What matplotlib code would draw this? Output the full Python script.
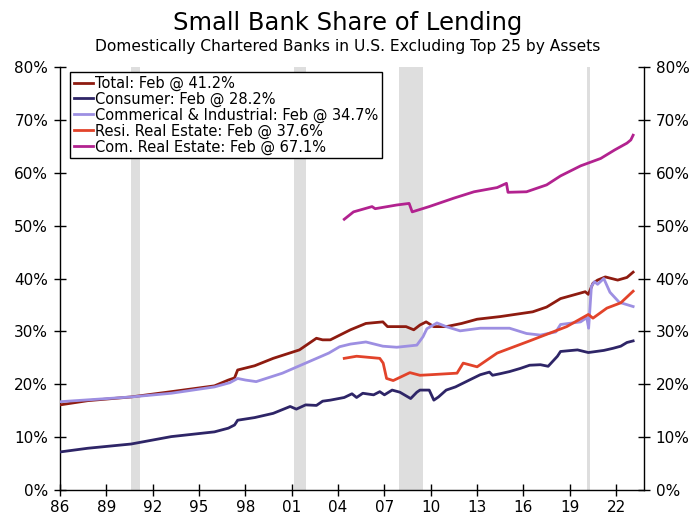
import matplotlib
matplotlib.use("Agg")
import matplotlib.pyplot as plt
from matplotlib.ticker import FuncFormatter, MultipleLocator

plt.rcParams['font.family'] = ['DejaVu Sans']

# ---- data (decimal year, percent share) ----
total_x = [1986.0, 1987.8, 1990.6, 1993.2, 1996.0, 1996.9, 1997.3, 1997.5, 1998.6, 1999.8,
           2001.5, 2002.0, 2002.6, 2003.0, 2003.5, 2004.8, 2005.8, 2006.9, 2007.2, 2008.4,
           2008.9, 2009.3, 2009.7, 2010.2, 2011.0, 2012.0, 2013.0, 2014.5, 2016.6, 2017.5,
           2018.4, 2020.0, 2020.2, 2020.5, 2020.8, 2021.3, 2022.1, 2022.7, 2023.1]
total_y = [16.1, 16.9, 17.6, 18.6, 19.7, 20.8, 21.2, 22.7, 23.5, 24.9,
           26.5, 27.5, 28.7, 28.4, 28.4, 30.3, 31.5, 31.8, 30.9, 30.9,
           30.3, 31.2, 31.8, 30.9, 30.9, 31.5, 32.3, 32.8, 33.7, 34.6,
           36.2, 37.5, 37.0, 39.1, 39.7, 40.3, 39.7, 40.2, 41.2]

cons_x = [1986.0, 1987.8, 1990.6, 1993.2, 1996.0, 1996.9, 1997.3, 1997.5, 1998.6, 1999.8,
          2000.9, 2001.3, 2001.9, 2002.6, 2003.0, 2003.5, 2004.4, 2004.9, 2005.2, 2005.6,
          2006.3, 2006.7, 2007.0, 2007.5, 2008.0, 2008.7, 2009.1, 2009.3, 2009.9, 2010.2,
          2010.5, 2011.0, 2011.6, 2012.5, 2013.2, 2013.8, 2014.0, 2014.5, 2015.1, 2015.8,
          2016.4, 2017.1, 2017.6, 2018.2, 2018.4, 2019.5, 2020.2, 2021.2, 2021.8, 2022.3,
          2022.7, 2023.1]
cons_y = [7.2, 7.9, 8.7, 10.1, 11.0, 11.7, 12.3, 13.2, 13.7, 14.5,
          15.8, 15.3, 16.1, 16.0, 16.8, 17.0, 17.5, 18.2, 17.5, 18.3,
          18.0, 18.6, 18.0, 18.9, 18.5, 17.3, 18.5, 18.9, 18.9, 17.0,
          17.6, 18.9, 19.5, 20.8, 21.8, 22.3, 21.7, 22.0, 22.4, 23.0,
          23.6, 23.7, 23.4, 25.3, 26.2, 26.5, 26.0, 26.4, 26.8, 27.2,
          27.9, 28.2]

ci_x = [1986.0, 1990.6, 1993.2, 1996.0, 1997.0, 1997.5, 1998.0, 1998.7, 2000.4, 2001.9,
        2003.4, 2004.1, 2004.8, 2005.8, 2006.9, 2007.8, 2009.1, 2009.5, 2009.75, 2010.4,
        2011.0, 2011.9, 2013.2, 2014.5, 2015.1, 2016.2, 2017.1, 2018.1, 2018.4, 2019.7,
        2020.1, 2020.22, 2020.4, 2020.6, 2020.8, 2021.2, 2021.6, 2022.2, 2023.1]
ci_y = [16.7, 17.6, 18.3, 19.5, 20.3, 21.1, 20.8, 20.5, 22.1, 24.0,
        25.9, 27.1, 27.6, 28.0, 27.2, 27.0, 27.4, 29.0, 30.5, 31.6,
        30.9, 30.1, 30.6, 30.6, 30.6, 29.6, 29.3, 29.9, 31.3, 31.8,
        32.6, 30.6, 38.5, 39.4, 38.9, 40.0, 37.4, 35.5, 34.7]

resi_x = [2004.4, 2005.2, 2006.7, 2006.92, 2007.14, 2007.57, 2008.65, 2009.3, 2009.95, 2011.7,
          2012.1, 2013.0, 2014.3, 2016.4, 2018.8, 2020.2, 2020.5, 2021.4, 2022.3, 2023.1]
resi_y = [24.9, 25.3, 24.9, 24.0, 21.1, 20.7, 22.2, 21.7, 21.8, 22.1,
          24.0, 23.3, 25.9, 28.2, 30.9, 33.2, 32.5, 34.4, 35.4, 37.6]

cre_x = [2004.4, 2005.0, 2006.2, 2006.4, 2007.8, 2008.6, 2008.8, 2009.9, 2011.5, 2012.8,
         2014.3, 2014.9, 2015.0, 2016.2, 2017.5, 2018.4, 2019.7, 2021.0, 2021.9, 2022.7,
         2022.95, 2023.1]
cre_y = [51.2, 52.6, 53.6, 53.2, 53.9, 54.2, 52.6, 53.6, 55.2, 56.4,
         57.2, 58.0, 56.3, 56.4, 57.7, 59.4, 61.3, 62.7, 64.3, 65.6,
         66.2, 67.1]

recessions = [(1990.58, 1991.17), (2001.17, 2001.92), (2007.92, 2009.5), (2020.1, 2020.3)]

labels = ["Total: Feb @ 41.2%", "Consumer: Feb @ 28.2%",
          "Commerical & Industrial: Feb @ 34.7%", "Resi. Real Estate: Feb @ 37.6%",
          "Com. Real Estate: Feb @ 67.1%"]
colors = ["#8E1B10", "#2E2567", "#9D8FE2", "#E2432A", "#B2228F"]
tick_years = list(range(1986, 2023, 3))

# ---- figure ----
fig = plt.figure(figsize=(6.96, 5.18), dpi=100)
ax = fig.add_axes([0.0862, 0.054, 0.839, 0.8167])

for a, b in recessions:
    ax.axvspan(a, b, color="#DEDEDE", lw=0, zorder=0)

series = [(total_x, total_y), (cons_x, cons_y), (ci_x, ci_y), (resi_x, resi_y), (cre_x, cre_y)]
for (xs, ys), lab, col in zip(series, labels, colors):
    ax.plot(xs, ys, color=col, lw=2.0, label=lab, zorder=3)

ax.set_xlim(1986, 2023.8)
ax.set_ylim(0, 80)
ax.set_xticks(tick_years)
ax.set_xticklabels([f"{y % 100:02d}" for y in tick_years])
ax.yaxis.set_major_locator(MultipleLocator(10))
ax.yaxis.set_major_formatter(FuncFormatter(lambda v, p: f"{v:.0f}%"))

ax.spines['top'].set_visible(False)
for s in ['left', 'right', 'bottom']:
    ax.spines[s].set_linewidth(1.0)
    ax.spines[s].set_color('black')

ax.tick_params(axis='both', which='major', direction='inout', length=9, width=1.0,
               labelsize=11, colors='black')
ax.tick_params(axis='y', right=True, labelright=True, pad=4)
ax.tick_params(axis='x', pad=3)

leg = ax.legend(loc='upper left', bbox_to_anchor=(0.012, 0.995), fontsize=10.5,
                frameon=True, fancybox=False, edgecolor='black', framealpha=1,
                handlelength=1.3, handletextpad=0.2, borderpad=0.25, labelspacing=0.05,
                borderaxespad=0.2)
leg.get_frame().set_linewidth(1.0)

fig.text(0.5, 0.955, "Small Bank Share of Lending", ha='center', va='center', fontsize=17.5)
fig.text(0.5, 0.91, "Domestically Chartered Banks in U.S. Excluding Top 25 by Assets",
         ha='center', va='center', fontsize=11.2)

fig.savefig("out.png", dpi=100)
